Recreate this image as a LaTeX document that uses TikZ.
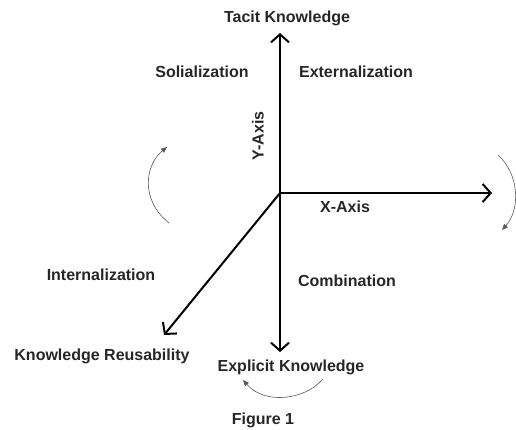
\documentclass[tikz,border=0pt]{standalone}
\usepackage{fontspec}
\setmainfont{Liberation Sans}
\usetikzlibrary{arrows.meta}
\begin{document}
\begin{tikzpicture}[x=1pt,y=-1pt,
  lbl/.style={font=\bfseries\fontsize{16}{18}\selectfont, inner sep=0pt, text=black!85},
  axis/.style={line width=2pt, -{Straight Barb[length=8pt,width=18pt,line width=2pt]}},
  turn/.style={line width=0.6pt, draw=black!65, -{Triangle[length=6pt,width=5pt]}}]
\useasboundingbox (0,0) rectangle (516,430);
\coordinate (o) at (280,193);
\coordinate (ytop) at (280,33);
\coordinate (ybot) at (280,352);
\coordinate (xend) at (492,193);
\coordinate (dend) at (164,335);
\draw[axis] (o) -- (ytop);
\draw[axis] (o) -- (ybot);
\draw[axis] (o) -- (xend);
\draw[axis] (o) -- (dend);
\node[lbl] (tacit) at (287,18) {Tacit Knowledge};
\node[lbl] (soli) at (202,72) {Solialization};
\node[lbl] (ext) at (356,72) {Externalization};
\node[lbl, rotate=90] (yax) at (258,136) {Y-Axis};
\node[lbl] (xax) at (345,207) {X-Axis};
\node[lbl] (comb) at (347,281) {Combination};
\node[lbl] (int) at (101,275) {Internalization};
\node[lbl] (reuse) at (102,356) {Knowledge Reusability};
\node[lbl] (expl) at (291,367) {Explicit Knowledge};
\node[lbl] (fig) at (263,420) {Figure 1};
\coordinate (l1) at (169,223);
\coordinate (l2) at (167,147);
\draw[turn] (l1) .. controls (140,200) and (145,165) .. (l2);
\coordinate (r1) at (498,155);
\coordinate (r2) at (502,230);
\draw[turn] (r1) .. controls (520,175) and (520,210) .. (r2);
\coordinate (b1) at (323,379);
\coordinate (b2) at (243,380);
\draw[turn] (b1) .. controls (305,400) and (265,405) .. (b2);
\end{tikzpicture}
\end{document}
